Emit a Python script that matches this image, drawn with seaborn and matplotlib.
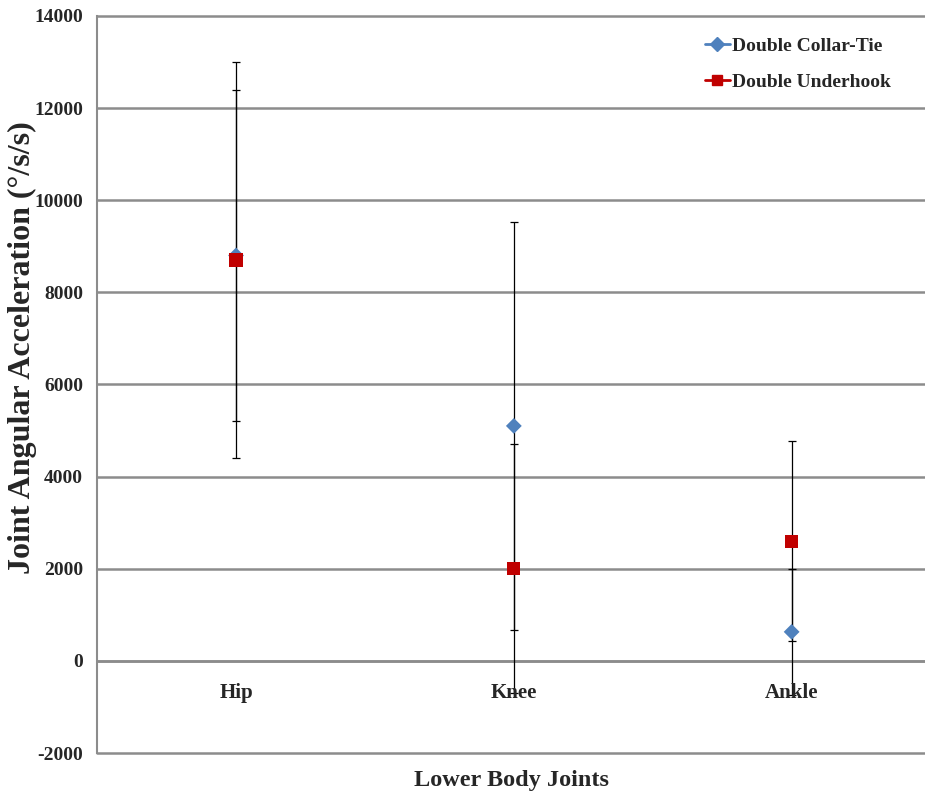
import matplotlib
matplotlib.use("Agg")
import matplotlib.pyplot as plt
import seaborn as sns
import numpy as np
import pandas as pd
from matplotlib.lines import Line2D

# dados
articulacoes = ["Hip", "Knee", "Ankle"]
series = ["Double Collar-Tie", "Double Underhook"]
media_collar = [8800, 5100, 630]
dp_collar = [3600, 4420, 1370]
media_under = [8700, 2000, 2600]
dp_under = [4300, 2700, 2170]

cores = {"Double Collar-Tie": "#4F81BD", "Double Underhook": "#C00000"}
marcadores = {"Double Collar-Tie": "D", "Double Underhook": "s"}

dados = pd.DataFrame({
    "x": list(range(3)) * 2,
    "joint": articulacoes * 2,
    "valor": media_collar + media_under,
    "dp": dp_collar + dp_under,
    "serie": [series[0]] * 3 + [series[1]] * 3,
})

sns.set_style("white")
plt.rcParams['font.family'] = ['Liberation Serif', 'DejaVu Serif']
plt.rcParams['font.weight'] = 'bold'
plt.rcParams['axes.unicode_minus'] = False

fig = plt.figure(figsize=(9.25, 7.96), dpi=100)
ax = fig.add_axes([0.105, 0.054, 0.895, 0.926])

cinza = "#8c8c8c"

# Barras de erro
for serie in series:
    sub = dados[dados["serie"] == serie]
    ax.errorbar(sub["x"], sub["valor"], yerr=sub["dp"], fmt="none",
                ecolor="black", elinewidth=0.9, capsize=2.6, capthick=0.9, zorder=3)

sns.scatterplot(data=dados, x="x", y="valor", hue="serie", style="serie",
                palette=cores, markers=marcadores, s=[65, 65, 65, 90, 90, 90],
                edgecolor=None, linewidth=0, legend=False, ax=ax, zorder=4)

ax.set_xlim(-0.5, 2.48)
ax.set_ylim(-2000, 14000)
ax.set_yticks(np.arange(-2000, 14001, 2000))
ax.grid(True, axis="y", color=cinza, linewidth=1.8)
for g in ax.get_ygridlines():
    g.set_clip_on(False)
ax.set_axisbelow(True)

for lado in ["top", "right"]:
    ax.spines[lado].set_visible(False)
ax.spines["left"].set_color(cinza)
ax.spines["left"].set_linewidth(1.5)
ax.spines["bottom"].set_position(("data", 0))
ax.spines["bottom"].set_color(cinza)
ax.spines["bottom"].set_linewidth(1.8)

ax.tick_params(axis="y", direction="out", length=5, color=cinza, labelsize=14, pad=5)
ax.set_xticks([0.5, 1.5])
ax.set_xticklabels([])
ax.tick_params(axis="x", direction="out", length=6, color=cinza, width=1.5)
for lbl in ax.get_yticklabels():
    lbl.set_fontweight("bold")

for i, nome in enumerate(articulacoes):
    ax.text(i, -700, nome, ha="center", va="center", fontsize=15,
            fontweight="bold", zorder=5)

ax.set_xlabel("")
ax.set_ylabel("")
fig.text(0.024, 0.563, "Joint Angular Acceleration (°/s/s)", rotation=90,
         ha="center", va="center", fontsize=23, fontweight="bold")
fig.text(0.553, 0.02, "Lower Body Joints", ha="center", va="center",
         fontsize=17.5, fontweight="bold")

handles = [Line2D([0], [0], color=cores[s], marker=marcadores[s], lw=2,
                  markersize=7 if s == series[0] else 7.5, label=s) for s in series]
leg = ax.legend(handles=handles, loc="upper right", frameon=False,
                prop={"weight": "bold", "size": 14}, handlelength=1.3,
                handletextpad=0.1, labelspacing=0.95, bbox_to_anchor=(0.98, 0.995))

fig.savefig("out.png", dpi=100)
